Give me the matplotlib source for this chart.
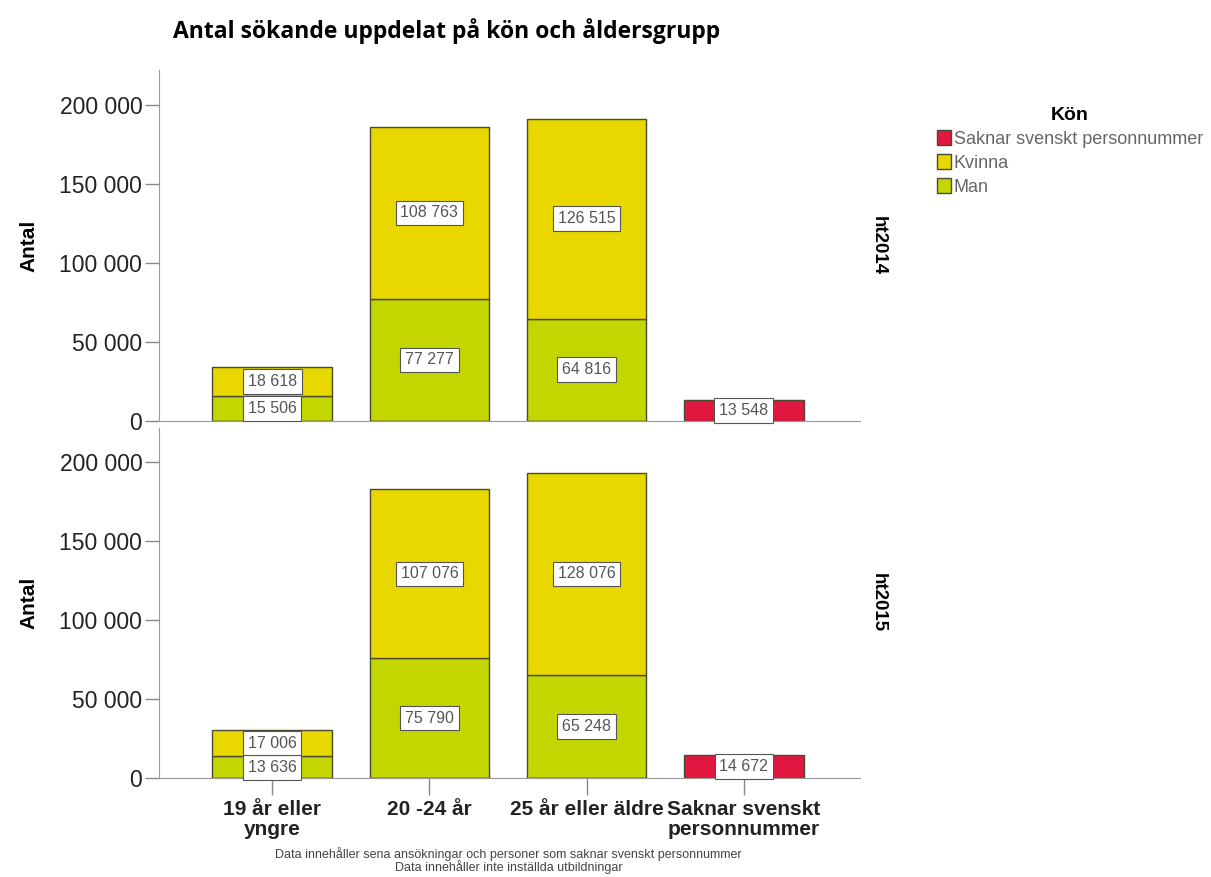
import numpy as np
import matplotlib.pyplot as plt
from matplotlib.patches import Patch

# ---- data ----
kategorier = ['19 år eller\nyngre', '20 -24 år', '25 år eller äldre', 'Saknar svenskt\npersonnummer']
paneler = ['ht2014', 'ht2015']

man_2014 = [15506, 77277, 64816, 0]
kvinna_2014 = [18618, 108763, 126515, 0]
saknar_2014 = [0, 0, 0, 13548]

man_2015 = [13636, 75790, 65248, 0]
kvinna_2015 = [17006, 107076, 128076, 0]
saknar_2015 = [0, 0, 0, 14672]

serier = {
    'ht2014': (man_2014, kvinna_2014, saknar_2014),
    'ht2015': (man_2015, kvinna_2015, saknar_2015),
}

yticks = [0, 50000, 100000, 150000, 200000]

c_man = '#C4D600'
c_kvinna = '#E8D800'
c_saknar = '#E2173F'
c_kant = '#4a4a30'

plt.rcParams['font.family'] = ['Liberation Sans', 'DejaVu Sans']

fig = plt.figure(figsize=(12.11, 8.77), dpi=100)

ax_pos = {
    'ht2014': [0.1313, 0.520, 0.579, 0.400],
    'ht2015': [0.1313, 0.1129, 0.579, 0.3995],
}


def fmt(v):
    return f'{v:,}'.replace(',', ' ')


def etikett(ax, x, y, v):
    ax.text(x, y, fmt(v), ha='center', va='center', fontsize=11.5, color='#555555',
            bbox=dict(boxstyle='square,pad=0.3', fc='white', ec='#555555', lw=0.8), zorder=5)


x = np.arange(len(kategorier))
w = 0.76

for p in paneler:
    man, kvinna, saknar = serier[p]
    ax = fig.add_axes(ax_pos[p])
    ax.bar(x, man, w, color=c_man, edgecolor=c_kant, linewidth=1.0, zorder=2)
    ax.bar(x, kvinna, w, bottom=man, color=c_kvinna, edgecolor=c_kant, linewidth=1.0, zorder=2)
    ax.bar(x, saknar, w, color=c_saknar, edgecolor=c_kant, linewidth=1.0, zorder=2)

    for i in range(len(x)):
        if man[i] > 0:
            etikett(ax, x[i], man[i] / 2, man[i])
        if kvinna[i] > 0:
            etikett(ax, x[i], man[i] + kvinna[i] / 2, kvinna[i])
        if saknar[i] > 0:
            etikett(ax, x[i], saknar[i] / 2, saknar[i])

    ax.set_xlim(-0.72, 3.74)
    ax.set_ylim(0, 222000)
    ax.set_yticks(yticks)
    ax.set_yticklabels([fmt(v) for v in yticks], fontsize=16.5, color='#222222')
    ax.tick_params(axis='y', length=10, width=1, color='#888888', pad=2)
    for s in ['top', 'right']:
        ax.spines[s].set_visible(False)
    ax.spines['left'].set_color('#999999')
    ax.spines['bottom'].set_color('#999999')
    ax.set_ylabel('Antal', fontsize=15, fontweight='bold')
    ax.yaxis.set_label_coords(-0.172, 0.5)
    ax.text(1.026, 0.5, p, transform=ax.transAxes, rotation=-90, ha='center', va='center',
            fontsize=13.5, fontweight='bold')

    if p == 'ht2015':
        ax.set_xticks(x)
        ax.set_xticklabels(kategorier, fontsize=15, fontweight='bold', color='#222222',
                           linespacing=1.05)
        ax.tick_params(axis='x', length=12, width=1, color='#888888', pad=4)
    else:
        ax.set_xticks([])

fig.text(0.143, 0.965, 'Antal sökande uppdelat på kön och åldersgrupp', fontsize=16.5,
         fontweight='bold', family=['Open Sans', 'DejaVu Sans'], va='center')

fig.text(0.42, 0.019, 'Data innehåller sena ansökningar och personer som saknar svenskt personnummer\n'
         'Data innehåller inte inställda utbildningar', ha='center', va='center',
         fontsize=9, color='#444444', linespacing=0.9)

# legend
handles = [Patch(facecolor=c_saknar, edgecolor=c_kant),
           Patch(facecolor=c_kvinna, edgecolor=c_kant),
           Patch(facecolor=c_man, edgecolor=c_kant)]
leg = fig.legend(handles, ['Saknar svenskt personnummer', 'Kvinna', 'Man'],
                 loc='upper left', bbox_to_anchor=(0.760, 0.897), frameon=False,
                 fontsize=13, handlelength=0.8, handleheight=0.9, handletextpad=0.15,
                 labelspacing=0.35, title='Kön', title_fontproperties={'weight': 'bold', 'size': 14})
for t in leg.get_texts():
    t.set_color('#666666')

fig.savefig('out.png', dpi=100)
